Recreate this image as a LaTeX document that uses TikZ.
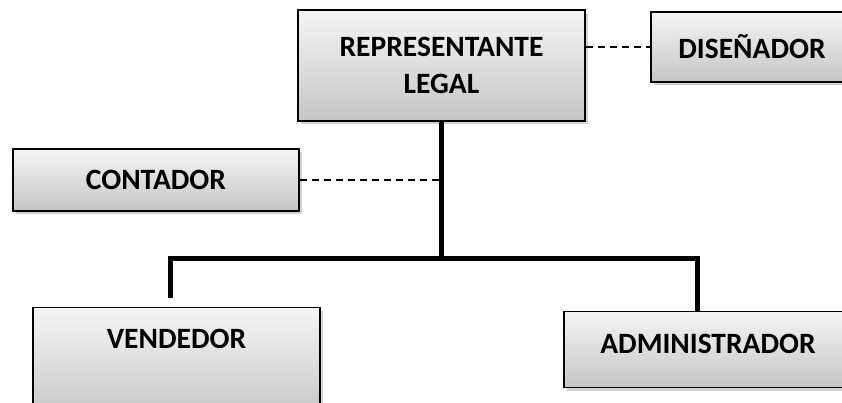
\documentclass[tikz,border=0pt]{standalone}
\usepackage{fontspec}
\setmainfont{Carlito}
\usetikzlibrary{shadows}

\begin{document}
\begin{tikzpicture}[x=1pt, y=1pt,
    puesto/.style={draw=black, line width=1.3pt, top color=gray!8, bottom color=gray!45,
        drop shadow={shadow xshift=2.5pt, shadow yshift=-3pt, opacity=0.35},
        font=\bfseries\fontsize{29.5}{37}\selectfont, align=center, inner sep=0pt},
    mando/.style={line width=5pt},
    asesor/.style={line width=1.9pt, dash pattern=on 7pt off 5pt}]
    \useasboundingbox (0,0) rectangle (842,402);

    \node[puesto, minimum width=287pt, minimum height=111pt] (rep) at (441.5, 336.5) {REPRESENTANTE\\LEGAL};
    \node[puesto, minimum width=202pt, minimum height=70pt] (dis) at (752, 355) {DISEÑADOR};
    \node[puesto, minimum width=286pt, minimum height=62pt] (con) at (156, 222) {CONTADOR};
    \node[puesto, minimum width=287pt, anchor=north, text height=19pt, text depth=50pt, inner ysep=22pt] (ven) at (176.5, 95) {VENDEDOR};
    \node[puesto, minimum width=288pt, anchor=north, text height=19pt, text depth=11pt, inner ysep=23pt] (adm) at (708, 91) {ADMINISTRADOR};

    \coordinate (bus) at (rep.south |- 0,144);
    \coordinate (venin) at (170, 104);
    \coordinate (admin) at (697, 91);

    \draw[mando] (rep.south) -- (bus);
    \draw[mando] (venin) -- (venin |- bus) -- (admin |- bus) -- (admin);
    \draw[asesor] (rep.east |- dis.west) -- (dis.west);
    \draw[asesor] (con.east) -- (con.east -| bus);
\end{tikzpicture}
\end{document}
